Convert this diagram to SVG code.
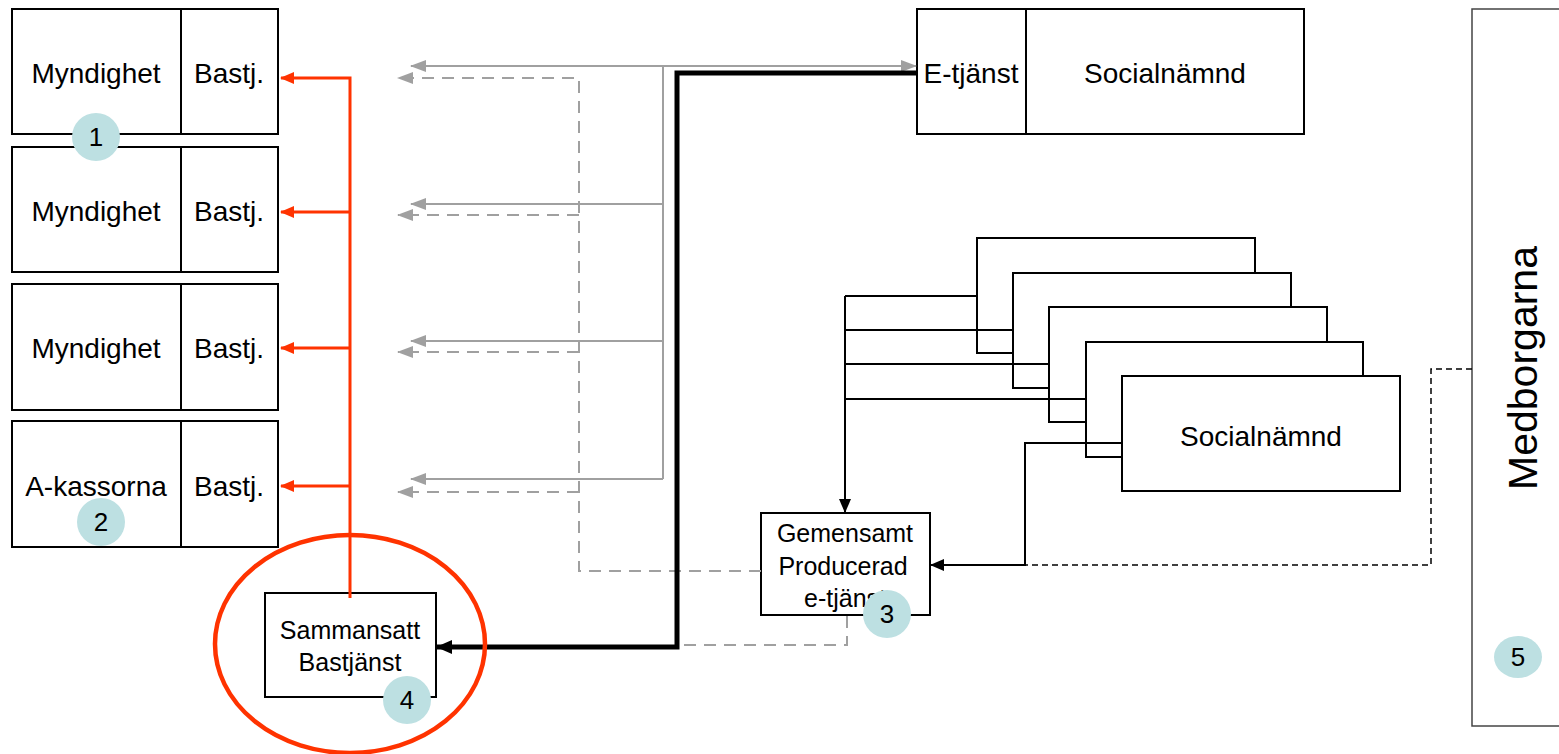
<svg xmlns="http://www.w3.org/2000/svg" width="1559" height="754" viewBox="0 0 1559 754">
<style>
text{font-family:"Liberation Sans",Arial,sans-serif;fill:#000}
.box{fill:#fff;stroke:#000;stroke-width:2}
.lbl{font-size:28px;text-anchor:middle;dominant-baseline:central}
.sm{font-size:25px;text-anchor:middle;dominant-baseline:central}
.red{fill:none;stroke:#ff3300;stroke-width:3}
.gray{fill:none;stroke:#a0a0a0;stroke-width:2}
.gdash{fill:none;stroke:#a0a0a0;stroke-width:2;stroke-dasharray:12 8}
.blk{fill:none;stroke:#000;stroke-width:2}
.thick{fill:none;stroke:#000;stroke-width:5}
.bdash{fill:none;stroke:#000;stroke-width:1.5;stroke-dasharray:6 4}
.badge{fill:#bde0e2}
.num{font-size:26px;text-anchor:middle;dominant-baseline:central}
</style>
<defs>
<marker id="ar" markerUnits="userSpaceOnUse" markerWidth="14" markerHeight="12" refX="13" refY="6" orient="auto"><path d="M0,0 L14,6 L0,12 z" fill="#ff3300"/></marker>
<marker id="ag" markerUnits="userSpaceOnUse" markerWidth="16" markerHeight="12" refX="15" refY="6" orient="auto-start-reverse"><path d="M0,0 L16,6 L0,12 z" fill="#a0a0a0"/></marker>
<marker id="ab" markerUnits="userSpaceOnUse" markerWidth="14" markerHeight="12" refX="13" refY="6" orient="auto"><path d="M0,0 L14,6 L0,12 z" fill="#000"/></marker>
<marker id="abt" markerUnits="userSpaceOnUse" markerWidth="16" markerHeight="14" refX="15" refY="7" orient="auto"><path d="M0,0 L16,7 L0,14 z" fill="#000"/></marker>
</defs>

<g id="medborgarna">
<rect x="1472" y="9" width="100" height="717" fill="#fff" stroke="#444" stroke-width="1.5"/>
<text transform="translate(1523,368) rotate(-90)" font-size="41" text-anchor="middle" dominant-baseline="central">Medborgarna</text>
</g>

<g id="myndighet1">
<rect class="box" x="12" y="9" width="266" height="125"/>
<line x1="181" y1="9" x2="181" y2="134" stroke="#000" stroke-width="2"/>
<text class="lbl" x="96" y="73">Myndighet</text>
<text class="lbl" x="229" y="73">Bastj.</text>
</g>
<g id="myndighet2">
<rect class="box" x="12" y="147" width="266" height="125"/>
<line x1="181" y1="147" x2="181" y2="272" stroke="#000" stroke-width="2"/>
<text class="lbl" x="96" y="211">Myndighet</text>
<text class="lbl" x="229" y="211">Bastj.</text>
</g>
<g id="myndighet3">
<rect class="box" x="12" y="284" width="266" height="126"/>
<line x1="181" y1="284" x2="181" y2="410" stroke="#000" stroke-width="2"/>
<text class="lbl" x="96" y="348">Myndighet</text>
<text class="lbl" x="229" y="348">Bastj.</text>
</g>
<g id="akassorna">
<rect class="box" x="12" y="421" width="266" height="126"/>
<line x1="181" y1="421" x2="181" y2="547" stroke="#000" stroke-width="2"/>
<text class="lbl" x="96" y="486">A-kassorna</text>
<text class="lbl" x="229" y="486">Bastj.</text>
</g>

<g id="etjanst">
<rect class="box" x="917" y="9" width="387" height="125"/>
<line x1="1026" y1="9" x2="1026" y2="134" stroke="#000" stroke-width="2"/>
<text class="lbl" x="971" y="73">E-tjänst</text>
<text class="lbl" x="1165" y="73">Socialnämnd</text>
</g>

<g id="socialnamnder">
<rect class="box" x="977" y="238" width="278" height="115"/>
<rect class="box" x="1013" y="273" width="278" height="115"/>
<rect class="box" x="1049" y="307" width="278" height="115"/>
<rect class="box" x="1086" y="342" width="277" height="115"/>
<rect class="box" x="1122" y="376" width="278" height="115"/>
<text class="lbl" x="1261" y="436">Socialnämnd</text>
</g>

<g id="gemensamt">
<rect class="box" x="761" y="513" width="169" height="102"/>
<text class="sm" x="845" y="533">Gemensamt</text>
<text class="sm" x="843" y="566">Producerad</text>
<text class="sm" x="845" y="598">e-tjänst</text>
</g>

<g id="sammansatt">
<rect class="box" x="265" y="593" width="171" height="104"/>
<text class="sm" x="350" y="630">Sammansatt</text>
<text class="sm" x="350" y="662">Bastjänst</text>
</g>

<g id="connectors">
<path class="red" d="M350,598 V78 H281" marker-end="url(#ar)"/>
<path class="red" d="M350,212 H281" marker-end="url(#ar)"/>
<path class="red" d="M350,348 H281" marker-end="url(#ar)"/>
<path class="red" d="M350,486 H281" marker-end="url(#ar)"/>

<path class="gray" d="M411,66 H916" marker-start="url(#ag)" marker-end="url(#ag)"/>
<path class="gray" d="M663,66 V479"/>
<path class="gray" d="M663,204 H411" marker-end="url(#ag)"/>
<path class="gray" d="M663,341 H411" marker-end="url(#ag)"/>
<path class="gray" d="M663,479 H411" marker-end="url(#ag)"/>

<path class="gdash" d="M761,571 H579 V78 H398" marker-end="url(#ag)"/>
<path class="gdash" d="M579,215 H398" marker-end="url(#ag)"/>
<path class="gdash" d="M579,352 H398" marker-end="url(#ag)"/>
<path class="gdash" d="M579,492 H398" marker-end="url(#ag)"/>
<path class="gdash" d="M847,616 V645 H677"/>

<path class="thick" d="M917,73 H677 V647 H437" marker-end="url(#abt)"/>

<path class="blk" d="M845,296 H977"/>
<path class="blk" d="M845,330 H1013"/>
<path class="blk" d="M845,364 H1049"/>
<path class="blk" d="M845,399 H1086"/>
<path class="blk" d="M845,296 V512" marker-end="url(#ab)"/>
<path class="blk" d="M1122,443 H1025 V565 H931" marker-end="url(#ab)"/>
<path class="bdash" d="M1472,369 H1431 V565 H940"/>

<ellipse cx="350" cy="644" rx="135" ry="109" fill="none" stroke="#ff3300" stroke-width="4.5"/>
</g>

<g id="badges">
<circle class="badge" cx="96" cy="137" r="24"/><text class="num" x="96" y="137">1</text>
<circle class="badge" cx="101" cy="522" r="24"/><text class="num" x="101" y="522">2</text>
<circle class="badge" cx="887" cy="614" r="24"/><text class="num" x="887" y="614">3</text>
<circle class="badge" cx="407" cy="700" r="24"/><text class="num" x="407" y="700">4</text>
<ellipse class="badge" cx="1518" cy="657" rx="24" ry="21"/><text class="num" x="1518" y="657">5</text>
</g>
</svg>
